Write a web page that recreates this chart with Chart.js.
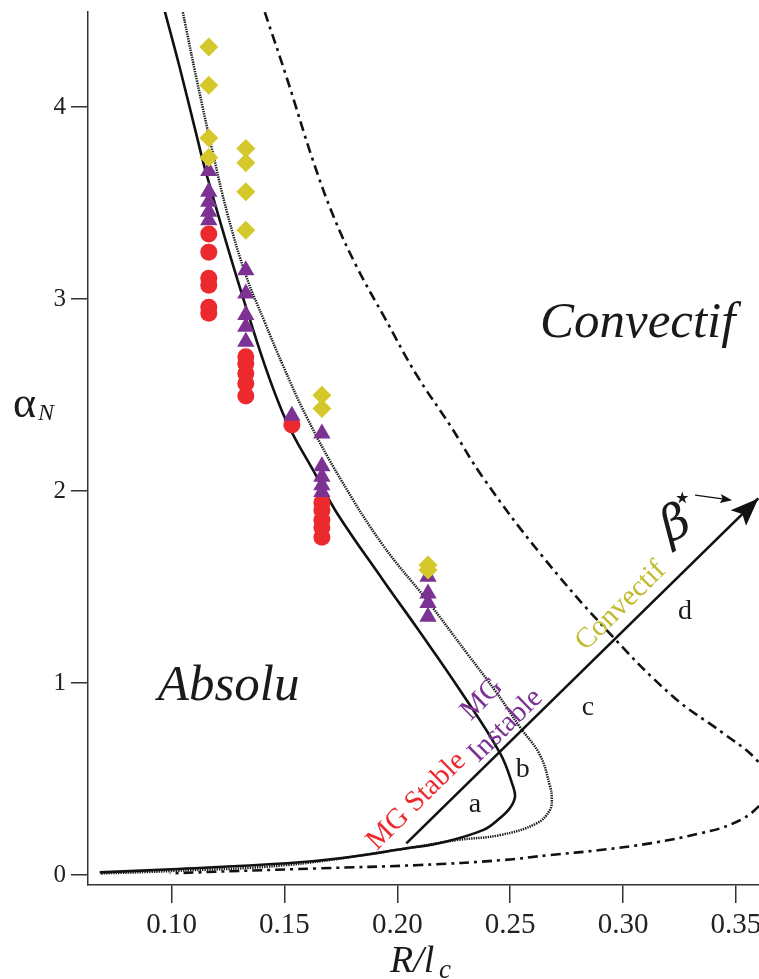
<!DOCTYPE html>
<html>
<head>
<meta charset="utf-8">
<script src="https://cdn.jsdelivr.net/npm/chart.js@4.4.1/dist/chart.umd.min.js"></script>
<style>
html,body{margin:0;padding:0;background:#fff;overflow:hidden}
canvas{display:block}
</style>
</head>
<body>
<canvas id="phase" width="759" height="979"></canvas>
<script>
// ----------------------------
// DATA
// ----------------------------

// axis ticks
const xTicks = [0.10, 0.15, 0.20, 0.25, 0.30, 0.35]
const yTicks = [0, 1, 2, 3, 4]

// experimental points : MG stable (red circles)
const stableX = [0.1165,0.1165,0.1165,0.1165,0.1165,0.1165, 0.1329,0.1329,0.1329,0.1329,0.1329, 0.1533, 0.1666,0.1666,0.1666,0.1666,0.1666]
const stableY = [3.339,3.245,3.109,3.073,2.958,2.927, 2.700,2.665,2.613,2.561,2.495, 2.344, 1.940,1.900,1.850,1.810,1.760]

// MG instable (purple triangles)
const instX = [0.1165,0.1165,0.1165,0.1165,0.1165, 0.1329,0.1329,0.1329,0.1329,0.1329, 0.1533, 0.1666,0.1666,0.1666,0.1666,0.1666, 0.2136,0.2136,0.2136,0.2136]
const instY = [3.668,3.559,3.507,3.455,3.411, 3.151,3.030,2.917,2.856,2.778, 2.392, 2.300,2.130,2.075,2.031,1.996, 1.554,1.467,1.417,1.345]

// convectif (yellow diamonds)
const convX = [0.1165,0.1165,0.1165,0.1165, 0.1329,0.1329,0.1329,0.1329, 0.1666,0.1666, 0.2136,0.2136]
const convY = [4.314,4.115,3.840,3.738, 3.785,3.710,3.559,3.359, 2.500,2.430, 1.615,1.589]

// boundary a/b (solid)
const solidX = [0.0970,0.1037,0.1103,0.1156,0.1334,0.1493,0.1644,0.1733,0.1937,0.2100,0.2277,0.2455,0.2512,0.2521,0.2499,0.2455,0.2379,0.2189,0.2042,0.1746,0.1511,0.1001,0.0682]
const solidY = [4.500,4.203,3.891,3.646,2.943,2.406,2.073,1.885,1.536,1.266,0.964,0.635,0.464,0.406,0.349,0.297,0.234,0.167,0.139,0.087,0.061,0.030,0.014]

// boundary b/c (dotted)
const dotX = [0.1050,0.1112,0.1177,0.1249,0.1332,0.1413,0.1493,0.1598,0.1746,0.1936,0.2131,0.2308,0.2441,0.2543,0.2632,0.2676,0.2684,0.2676,0.2617,0.2455,0.2263,0.2041,0.1510,0.1000,0.0683]
const dotY = [4.495,4.141,3.793,3.438,3.116,2.880,2.656,2.387,2.068,1.719,1.432,1.156,0.948,0.771,0.625,0.464,0.406,0.339,0.269,0.208,0.182,0.139,0.052,0.021,0.008]

// boundary c/d (dash-dot)
const dashX = [0.1413,0.1511,0.1626,0.1719,0.1821,0.1945,0.2086,0.2233,0.2381,0.2632,0.2927,0.3222,0.3444,0.3592,0.3651,0.3599,0.3488,0.3341,0.3119,0.2898,0.2676,0.2469,0.2100,0.1657,0.0992]
const dashY = [4.495,4.151,3.724,3.427,3.167,2.901,2.604,2.344,2.068,1.676,1.276,0.929,0.738,0.599,0.469,0.356,0.269,0.217,0.165,0.130,0.104,0.078,0.052,0.035,0.009]

// beta* arrow
const arrowX = [0.2040, 0.3599]
const arrowY = [0.165, 1.962]
const smallArrowX = [0.3319, 0.3483]
const smallArrowY = [1.979, 1.953]

// text notes (data coords)
const DIAG = -0.777
const notes = [
  {t:"Convectif", x:0.2632, y:2.802, c:"#1a1a1a", f:"italic 51px 'Liberation Serif'", a:0, al:"left"},
  {t:"Absolu", x:0.0939, y:0.911, c:"#1a1a1a", f:"italic 51px 'Liberation Serif'", a:0, al:"left"},
  {t:"MG Stable", x:0.2085, y:0.385, c:"#ec2a2e", f:"29px 'Liberation Serif'", a:DIAG, al:"center"},
  {t:"Instable", x:0.2480, y:0.778, c:"#7b3293", f:"29px 'Liberation Serif'", a:DIAG, al:"center"},
  {t:"MG", x:0.2375, y:0.915, c:"#7b3293", f:"29px 'Liberation Serif'", a:DIAG, al:"center"},
  {t:"Convectif", x:0.2990, y:1.401, c:"#c2bb2c", f:"29px 'Liberation Serif'", a:DIAG, al:"center"},
  {t:"a", x:0.2344, y:0.365, c:"#1a1a1a", f:"28px 'Liberation Serif'", a:0, al:"center"},
  {t:"b", x:0.2556, y:0.547, c:"#1a1a1a", f:"28px 'Liberation Serif'", a:0, al:"center"},
  {t:"c", x:0.2844, y:0.870, c:"#1a1a1a", f:"28px 'Liberation Serif'", a:0, al:"center"},
  {t:"d", x:0.3274, y:1.370, c:"#1a1a1a", f:"28px 'Liberation Serif'", a:0, al:"center"},
  {t:"β", x:0.3236, y:1.820, c:"#1a1a1a", f:"italic 48px 'DejaVu Serif'", a:-0.45, al:"center"},
  {t:"⋆", x:0.3262, y:1.955, c:"#1a1a1a", f:"32px 'DejaVu Sans'", a:0, al:"center"}
]

const zip = (xs, ys) => xs.map((x,i)=>({x:x, y:ys[i]}))

// ------------------------------------
// PLUGIN : arrow heads, notes, axis titles
// ------------------------------------

function head(ctx, x0, y0, x1, y1, len, half){
  const ang = Math.atan2(y1-y0, x1-x0)
  ctx.save()
  ctx.translate(x1, y1)
  ctx.rotate(ang)
  ctx.beginPath()
  ctx.moveTo(0,0)
  ctx.lineTo(-len, -half)
  ctx.lineTo(-len*0.8, 0)
  ctx.lineTo(-len, half)
  ctx.closePath()
  ctx.fill()
  ctx.restore()
}

const extras = {
  id:"extras",
  // the plot runs to the right edge of the canvas in the figure
  afterLayout(chart){
    const a = chart.chartArea, xs = chart.scales.x
    a.right = chart.width
    a.width = a.right - a.left
    xs.right = chart.width
    xs.width = xs.right - xs.left
    xs.configure()
  },
  afterDatasetsDraw(chart){
    const ctx = chart.ctx
    const xs = chart.scales.x, ys = chart.scales.y
    const P = (x,y)=>[xs.getPixelForValue(x), ys.getPixelForValue(y)]

    ctx.save()
    ctx.fillStyle = "#111"
    ctx.strokeStyle = "#111"

    // big arrow head
    let a = P(arrowX[0], arrowY[0]), b = P(arrowX[1], arrowY[1])
    head(ctx, a[0], a[1], b[0], b[1], 28, 11)

    // small arrow near beta
    a = P(smallArrowX[0], smallArrowY[0]); b = P(smallArrowX[1], smallArrowY[1])
    ctx.lineWidth = 1.4
    ctx.beginPath(); ctx.moveTo(a[0], a[1]); ctx.lineTo(b[0]-4, b[1]-0.5); ctx.stroke()
    head(ctx, a[0], a[1], b[0], b[1], 12, 4.5)

    // notes
    notes.forEach(n=>{
      const p = P(n.x, n.y)
      ctx.save()
      ctx.translate(p[0], p[1])
      ctx.rotate(n.a)
      ctx.font = n.f
      ctx.fillStyle = n.c
      ctx.textAlign = n.al
      ctx.textBaseline = n.al === "left" ? "alphabetic" : "middle"
      ctx.fillText(n.t, 0, 0)
      ctx.restore()
    })
    ctx.restore()

    // x tick labels
    ctx.save()
    ctx.fillStyle = "#222"
    ctx.font = "29px 'Liberation Serif'"
    ctx.textAlign = "center"
    ctx.textBaseline = "top"
    xTicks.forEach(v=>{
      ctx.fillText(v.toFixed(2), xs.getPixelForValue(v), xs.top + 26)
    })
    ctx.restore()

    // axis titles
    ctx.save()
    ctx.fillStyle = "#1a1a1a"
    ctx.textBaseline = "alphabetic"
    ctx.font = "italic 38px 'Liberation Serif'"
    ctx.fillText("R/l", 390, 972)
    ctx.font = "italic 27px 'Liberation Serif'"
    ctx.fillText("c", 439, 978)
    ctx.font = "44px 'Liberation Serif'"
    ctx.fillText("α", 13, 417)
    ctx.font = "italic 24px 'Liberation Serif'"
    ctx.fillText("N", 38, 420)
    ctx.restore()
  }
}

// ------------------------------------
// CHART
// ------------------------------------

const RED = "#ec2a2e", PURPLE = "#7b3293", YELLOW = "#d5c82b"

new Chart(document.getElementById("phase"), {
  type:"scatter",
  data:{
    datasets:[
      {label:"Convectif", data:zip(convX, convY), pointStyle:"rectRot", pointRadius:9.5,
        backgroundColor:YELLOW, borderColor:YELLOW, borderWidth:0},
      {label:"MG Instable", data:zip(instX, instY), pointStyle:"triangle", pointRadius:10,
        backgroundColor:PURPLE, borderColor:PURPLE, borderWidth:0},
      {label:"MG Stable", data:zip(stableX, stableY), pointStyle:"circle", pointRadius:8.5,
        backgroundColor:RED, borderColor:RED, borderWidth:0},
      {label:"beta", data:zip(arrowX, arrowY), showLine:true, pointRadius:0,
        borderColor:"#111", borderWidth:2.6},
      {label:"a-b", data:zip(solidX, solidY), showLine:true, pointRadius:0, tension:0.4,
        borderColor:"#111", borderWidth:2.6},
      {label:"b-c", data:zip(dotX, dotY), showLine:true, pointRadius:0, tension:0.4,
        borderColor:"#1a1a1a", borderWidth:2.5, borderDash:[1.4,1]},
      {label:"c-d", data:zip(dashX, dashY), showLine:true, pointRadius:0, tension:0.4,
        borderColor:"#111", borderWidth:2.6, borderDash:[10,5,3,5]}
    ]
  },
  options:{
    responsive:false,
    animation:false,
    layout:{padding:{top:12, right:0, left:0, bottom:0}},
    plugins:{legend:{display:false}, tooltip:{enabled:false}},
    scales:{
      x:{
        type:"linear", min:0.063, max:0.3602,
        afterFit:(s)=>{ s.height = 94; s.paddingLeft = 0; s.paddingRight = 0 },
        afterBuildTicks:(s)=>{ s.ticks = xTicks.map(v=>({value:v})) },
        ticks:{callback:()=>"", padding:0, maxRotation:0},
        grid:{drawOnChartArea:false, drawTicks:true, tickLength:18, color:"#333", lineWidth:1.5},
        border:{display:true, color:"#333", width:1.5}
      },
      y:{
        type:"linear", min:-0.052, max:4.496,
        afterFit:(s)=>{ s.width = 88; s.paddingTop = 0; s.paddingBottom = 0 },
        afterBuildTicks:(s)=>{ s.ticks = yTicks.map(v=>({value:v})) },
        ticks:{callback:(v)=>String(v), color:"#222", padding:5,
          font:{family:"'Liberation Serif'", size:25}},
        grid:{drawOnChartArea:false, drawTicks:true, tickLength:17, color:"#333", lineWidth:1.5},
        border:{display:true, color:"#333", width:1.5}
      }
    }
  },
  plugins:[extras]
})
</script>
</body>
</html>
